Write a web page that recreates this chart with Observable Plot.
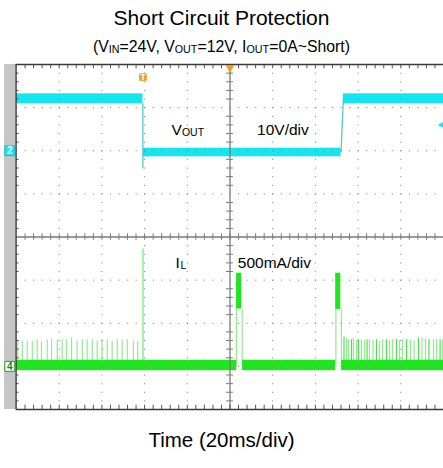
<!DOCTYPE html>
<html><head><meta charset="utf-8">
<script src="https://cdn.jsdelivr.net/npm/d3@7"></script>
<script src="https://cdn.jsdelivr.net/npm/@observablehq/plot@0.6"></script>
<style>
html,body{margin:0;padding:0;background:#fff;}
body{width:443px;height:468px;position:relative;overflow:hidden;font-family:"Liberation Sans",Arial,sans-serif;color:#000;}
.t{position:absolute;left:0;width:443px;text-align:center;white-space:nowrap;}
#title{top:6px;font-size:21px;line-height:24px;}
#sub{top:38px;font-size:15.8px;line-height:18px;}
#sub sub{font-size:0.68em;vertical-align:-1px;line-height:0;}
#cap{top:428px;font-size:20.5px;line-height:24px;}
#chart{position:absolute;left:0;top:58px;}
</style></head><body>
<div class="t" id="title">Short Circuit Protection</div>
<div class="t" id="sub">(V<sub>IN</sub>=24V, V<sub>OUT</sub>=12V, I<sub>OUT</sub>=0A~Short)</div>
<div id="chart"></div>
<div class="t" id="cap">Time (20ms/div)</div>
<script>
// ---- data (time in ms, 0 = screen centre; Vout in V, IL in A) ----
// Vout noise-band segments
const voutSegStart = [-100, -40.6, 53.1];
const voutSegEnd   = [-40.8, 52.0, 100];
const voutSegLo    = [10.9, -1.4, 10.9];
const voutSegHi    = [13.2, 0.6, 13.2];
// Vout edges (fall at short, rise at recovery)
const voutEdgeT1 = [-40.8, 52.0];
const voutEdgeT2 = [-40.8, 53.1];
const voutEdgeV1 = [11.0, -0.4];
const voutEdgeV2 = [-4.1, 12.0];
// IL baseline noise band
const ilBandStart = [-100, 5.9, 52.3];
const ilBandEnd   = [3.1, 49.5, 100];
const ilBandLo    = [-0.05, -0.05, -0.05];
const ilBandHi    = [0.07, 0.07, 0.07];
// IL switching pulses before short
const preT = [-99.4, -97.3, -95.0, -92.6, -90.3, -88.3, -85.6, -83.6, -80.9, -78.6, -76.6, -74.2, -71.6, -69.2, -66.9, -64.5, -62.2, -59.9, -57.5, -55.2, -52.8, -50.5, -48.1, -45.3, -43.2];
const preI = [0.30, 0.29, 0.29, 0.29, 0.31, 0.29, 0.31, 0.31, 0.30, 0.31, 0.31, 0.33, 0.29, 0.31, 0.31, 0.31, 0.29, 0.31, 0.31, 0.29, 0.31, 0.31, 0.31, 0.29, 0.29];
// IL short-circuit spike
const spikeT = [-40.75];
const spikeI = [1.36];
// hiccup bursts
const hicStart = [3.1, 49.5];
const hicEnd   = [5.5, 51.9];
const hicLo    = [0.665, 0.66];
const hicHi    = [1.08, 1.08];
const hicEdgeT = [3.0, 5.7, 49.6, 52.2];
const hicEdgeI = [1.0, 0.665, 0.665, 0.665];
// IL pulses after recovery
const postT = [53.4, 54.6, 55.5, 56.9, 57.8, 59.3, 60.2, 61.6, 63.0, 64.2, 65.3, 67.0, 68.6, 70.0, 71.4, 73.3, 74.7, 76.1, 78.0, 79.4, 80.8, 82.7, 84.5, 86.2, 88.3, 89.9, 91.6, 93.2, 95.3, 96.7, 98.4, 99.6];
const postI = [0.34, 0.32, 0.31, 0.31, 0.32, 0.30, 0.31, 0.31, 0.30, 0.31, 0.31, 0.30, 0.31, 0.29, 0.31, 0.31, 0.30, 0.31, 0.31, 0.30, 0.31, 0.31, 0.31, 0.30, 0.33, 0.33, 0.32, 0.31, 0.31, 0.31, 0.31, 0.31];
// grid ticks (divisions)
const majorT = [-80, -60, -40, -20, 20, 40, 60, 80];
const majorDiv = [-3, -2, -1, 1, 2, 3];
// labels
const labMain = ["V", "10V/div", "I", "500mA/div"];
const labSub  = ["OUT", "", "L", ""];
const labT    = [-27.4, 12.7, -25.5, 3.65];
const labDiv  = [2.354, 2.354, -0.714, -0.714];
// channel & trigger markers
const chName = ["2", "4"];
const chDiv  = [2, -3];
const trigT = -40.75, trigDiv = 3.71;

// ---- helpers ----
const vDiv = v => 2 + v / 10;
const iDiv = a => -3 + a / 0.5;
const idx = n => d3.range(n);
const minorT = d3.range(-96, 100, 4);
const minorDiv = d3.range(-19, 20).map(k => k / 5).filter(k => Math.abs(k % 1) > 1e-6);

const CYAN = "#14e6f0", CYAN_EDGE = "#4cc4c8";
const GREEN = "#1ee61e", PALE = "#93ea93";
const FONT = "Liberation Sans, Arial, sans-serif";
const subText = (i, dx) => Plot.text([i], {x: i => labT[i], y: i => labDiv[i], text: i => labSub[i], dx, dy: 1, textAnchor: "start", lineAnchor: "bottom", fontSize: 10.5, fill: "#000", fontFamily: FONT});

const chart = Plot.plot({
  width: 443, height: 360,
  marginTop: 6, marginBottom: 9, marginLeft: 16, marginRight: 0,
  x: {domain: [-100, 100], axis: null},
  y: {domain: [-4, 4], axis: null},
  style: {background: "#fff", overflow: "visible"},
  marks: [
    // left gray strip
    Plot.rect([0], {x1: -105.6, x2: -100.2, y1: -4, y2: 4, fill: "#c6c6c6"}),
    // Vout
    Plot.rect(idx(3), {x1: i => voutSegStart[i], x2: i => voutSegEnd[i], y1: i => vDiv(voutSegLo[i]), y2: i => vDiv(voutSegHi[i]), fill: CYAN}),
    Plot.link(idx(2), {x1: i => voutEdgeT1[i], x2: i => voutEdgeT2[i], y1: i => vDiv(voutEdgeV1[i]), y2: i => vDiv(voutEdgeV2[i]), stroke: CYAN_EDGE, strokeWidth: 1.2}),
    // IL pulses
    Plot.ruleX(idx(preT.length), {x: i => preT[i], y1: iDiv(0), y2: i => iDiv(preI[i]), stroke: PALE, strokeWidth: 1.2}),
    Plot.ruleX(idx(postT.length), {x: i => postT[i], y1: iDiv(0), y2: i => iDiv(postI[i]), stroke: (i) => i % 3 === 0 ? "#4fe04f" : PALE, strokeWidth: 1.2}),
    Plot.ruleX(idx(1), {x: i => spikeT[i], y1: iDiv(0), y2: i => iDiv(spikeI[i]), stroke: "#6ee86e", strokeWidth: 1.2}),
    Plot.ruleX(idx(4), {x: i => hicEdgeT[i], y1: iDiv(0), y2: i => iDiv(hicEdgeI[i]), stroke: PALE, strokeWidth: 1.2}),
    Plot.rect(idx(2), {x1: i => hicStart[i], x2: i => hicEnd[i], y1: i => iDiv(hicLo[i]), y2: i => iDiv(hicHi[i]), fill: GREEN}),
    Plot.rect(idx(3), {x1: i => ilBandStart[i], x2: i => ilBandEnd[i], y1: i => iDiv(ilBandLo[i]), y2: i => iDiv(ilBandHi[i]), fill: GREEN}),
    // dotted grid
    Plot.ruleX(majorT, {x: d => d, y1: 4, y2: -4, stroke: "#8a8a8a", strokeWidth: 1, strokeDasharray: "1.2,7.425"}),
    Plot.ruleY(majorDiv, {y: d => d, x1: -100, x2: 100, stroke: "#8a8a8a", strokeWidth: 1, strokeDasharray: "1.2,7.34"}),
    // centre cross with ticks
    Plot.ruleX([0], {x: d => d, y1: -4, y2: 4, stroke: "#7a7a7a", strokeWidth: 1.3}),
    Plot.ruleY([0], {y: d => d, x1: -100, x2: 100, stroke: "#7a7a7a", strokeWidth: 1.3}),
    Plot.ruleX(minorT, {x: d => d, y1: -0.075, y2: 0.075, stroke: "#7a7a7a", strokeWidth: 1}),
    Plot.ruleY(minorDiv, {y: d => d, x1: -1.6, x2: 1.6, stroke: "#7a7a7a", strokeWidth: 1}),
    // edge ticks
    Plot.ruleX(minorT, {x: d => d, y1: 4, y2: 3.9, stroke: "#555", strokeWidth: 1}),
    Plot.ruleX(minorT, {x: d => d, y1: -4, y2: -3.9, stroke: "#555", strokeWidth: 1}),
    Plot.ruleY(minorDiv, {y: d => d, x1: -100, x2: -98.8, stroke: "#555", strokeWidth: 1}),
    // frame
    Plot.ruleY([4, -4], {y: d => d, x1: -100.2, x2: 100, stroke: "#3a3a3a", strokeWidth: 1.6}),
    Plot.ruleX([-100.2], {x: d => d, y1: -4, y2: 4, stroke: "#3a3a3a", strokeWidth: 1.4}),
    // trigger markers
    Plot.dot([0], {x: 0, y: 4, dy: 3, symbol: "triangle", rotate: 180, r: 3.3, fill: "#f59b1a", stroke: null}),
    Plot.dot([0], {x: trigT, y: trigDiv, symbol: "square", r: 4.3, fill: "#f59b1a", stroke: null}),
    Plot.text([0], {x: trigT, y: trigDiv, text: () => "T", fill: "#fff", fontSize: 9, fontWeight: "bold", fontFamily: FONT}),
    // right level marker
    Plot.dot([0], {x: 100, y: 2.6, dx: -1, symbol: "triangle", rotate: -90, r: 3, fill: CYAN, stroke: null}),
    // channel markers
    Plot.dot([0], {x: -100.2, y: chDiv[0], dx: -6.3, symbol: "square", r: 5.6, fill: CYAN, stroke: "#0aa8b0", strokeWidth: 0.6}),
    Plot.dot([1], {x: -100.2, y: chDiv[1], dx: -6.3, symbol: "square", r: 5.6, fill: "#fff", stroke: "#1aa01a", strokeWidth: 1}),
    Plot.text(idx(2), {x: -100.2, y: i => chDiv[i], dx: -6.3, text: i => chName[i], fill: i => i === 0 ? "#fff" : "#1a8a1a", fontSize: 10, fontWeight: "bold", fontFamily: FONT}),
    // labels
    Plot.text(idx(4), {x: i => labT[i], y: i => labDiv[i], text: i => labMain[i], textAnchor: "start", lineAnchor: "bottom", fontSize: 15.5, fill: "#000", fontFamily: FONT}),
    subText(0, 10.4),
    subText(2, 5)
  ]
});
document.getElementById("chart").appendChild(chart);
</script>
</body></html>
